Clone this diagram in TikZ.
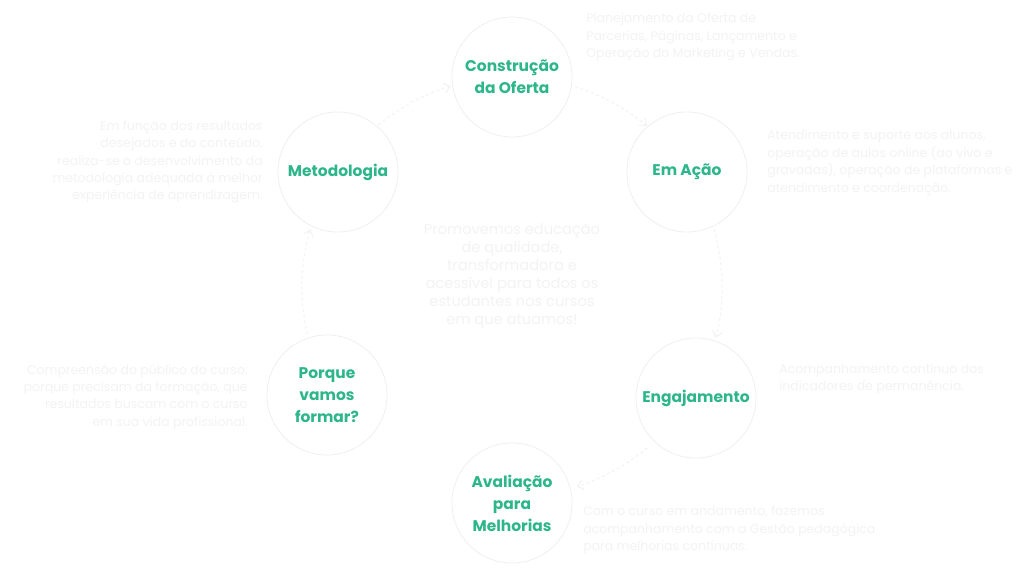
\documentclass[tikz,border=0pt]{standalone}
\usepackage{fontspec}
\setmainfont{Poppins}
\usetikzlibrary{arrows.meta}
\definecolor{brand}{RGB}{44,182,138}
\definecolor{ghost}{RGB}{243,243,243}
\definecolor{rim}{RGB}{238,238,238}
\tikzset{
  stage/.style={circle, draw=rim, line width=0.5pt, fill=white, minimum size=3cm, inner sep=0pt,
    align=center, text=brand, font=\bfseries\fontsize{11}{15.6}\selectfont},
  desc/.style={text=ghost, font=\fontsize{8.9}{12.4}\selectfont, inner sep=0pt},
  conn/.style={draw=ghost, line width=0.8pt, dashed, dash pattern=on 2pt off 2pt, -{Straight Barb[length=4pt,width=7pt]}}
}
\begin{document}
\begin{tikzpicture}[x=0.025cm,y=0.025cm]
\useasboundingbox[fill=white] (0,0) rectangle (1024,570);
\coordinate (ctr) at (512,283);
% connectors along the cycle
\draw[conn] ([shift={(131:5.25cm)}]ctr) coordinate (a1) arc[start angle=131, end angle=107, radius=5.25cm];
\draw[conn] ([shift={(74:5.25cm)}]ctr) coordinate (a2) arc[start angle=74, end angle=50, radius=5.25cm];
\draw[conn] ([shift={(16:5.25cm)}]ctr) coordinate (a3) arc[start angle=16, end angle=-14, radius=5.25cm];
\draw[conn] ([shift={(-50:5.25cm)}]ctr) coordinate (a4) arc[start angle=-50, end angle=-72, radius=5.25cm];
\draw[conn] ([shift={(193:5.25cm)}]ctr) coordinate (a5) arc[start angle=193, end angle=164, radius=5.25cm];
% stages
\node[stage] (oferta) at (512,493) {Construção\\da Oferta};
\node[stage] (metod) at (338,398) {Metodologia};
\node[stage] (acao) at (687,398) {Em Ação};
\node[stage] (porque) at (327,175) {Porque\\vamos\\formar?};
\node[stage] (engaj) at (696,172) {Engajamento};
\node[stage] (aval) at (512,67) {Avaliação\\para\\Melhorias};
% center text
\node[desc, align=center, font=\fontsize{10.4}{12.8}\selectfont] (mission) at (512,294)
  {Promovemos educação\\de qualidade,\\transformadora e\\acessível para todos os\\estudantes nos cursos\\em que atuamos!};
% descriptions
\node[desc, anchor=west, align=left] (toptext) at (586,533)
  {Planejamento da Oferta de\\Parcerias, Páginas, Lançamento e\\Operação do Marketing e Vendas.};
\node[desc, anchor=west, align=left] (acaotext) at (767,407)
  {Atendimento e suporte aos alunos,\\operação de aulas online (ao vivo e\\gravadas), operação de plataformas e\\atendimento e coordenação.};
\node[desc, anchor=east, align=right] (metodtext) at (263,408)
  {Em função dos resultados\\desejados e do conteúdo,\\realiza-se o desenvolvimento da\\metodologia adequada à melhor\\experiência de aprendizagem.};
\node[desc, anchor=east, align=right] (porquetext) at (248,173)
  {Compreensão do público do curso:\\porque precisam da formação, que\\resultados buscam com o curso\\em sua vida profissional.};
\node[desc, anchor=west, align=left] (engajtext) at (779,191)
  {Acompanhamento contínuo dos\\indicadores de permanência.};
\node[desc, anchor=west, align=left] (avaltext) at (583,40)
  {Com o curso em andamento, fazemos\\acompanhamento com a Gestão pedagógica\\para melhorias contínuas.};
\end{tikzpicture}
\end{document}
